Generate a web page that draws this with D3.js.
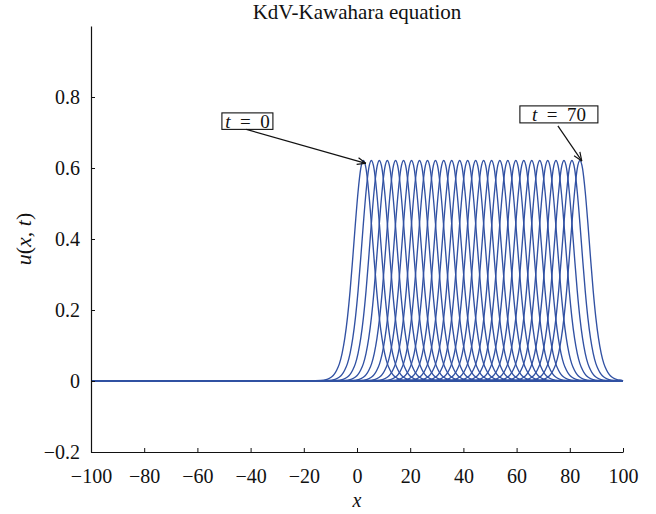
<!DOCTYPE html>
<html>
<head>
<meta charset="utf-8">
<script src="https://cdn.jsdelivr.net/npm/d3@7"></script>
<style>
  body { margin: 0; background: #fff; }
  text { font-family: "Liberation Serif", "Times New Roman", Tinos, Times, "DejaVu Serif", serif; fill: #111; }
</style>
</head>
<body>
<div id="chart"></div>
<script>
// Peak positions of the solitary wave, one per time step
var peakX = [2.4, 5.4, 8.4, 11.4, 14.5, 17.5, 20.5, 23.5, 26.5, 29.5,
             32.6, 35.6, 38.6, 41.6, 44.6, 47.6, 50.6, 53.7, 56.7, 59.7,
             62.7, 65.7, 68.7, 71.7, 74.8, 77.8, 80.8, 83.8];

// Pulse shape: distance from the peak and height u
var profileOffset = [-20, -16, -14, -13, -12, -11, -10, -9, -8, -7, -6, -5, -4, -3, -2, -1, 0,
                     1, 2, 3, 4, 5, 6, 7, 8, 9, 10, 11, 12, 13, 14, 16, 20];
var profileU = [0, 0.0013, 0.0039, 0.0066, 0.011, 0.0185, 0.031, 0.049, 0.078, 0.120, 0.178, 0.254, 0.346, 0.444, 0.533, 0.598, 0.621,
                0.598, 0.533, 0.444, 0.346, 0.254, 0.178, 0.120, 0.078, 0.049, 0.031, 0.0185, 0.011, 0.0066, 0.0039, 0.0013, 0];

// Axis ticks
var xTicks = [-100, -80, -60, -40, -20, 0, 20, 40, 60, 80, 100];
var yTicks = [-0.2, 0, 0.2, 0.4, 0.6, 0.8];

// Labels "t = ..." : box centre and arrow tip, in data units
var labelT = [0, 70];
var labelBox = [[-41.2, 0.732], [75.9, 0.751]];
var labelTip = [[3.3, 0.613], [84.5, 0.620]];

var width = 656, height = 514;
var margin = {top: 26, right: 33, bottom: 62, left: 91};
var serif = "'Liberation Serif', 'Times New Roman', Tinos, Times, serif";

var svg = d3.select("#chart")
            .append("svg")
            .attr("width", width)
            .attr("height", height);

var x = d3.scaleLinear().domain([-100, 100]).range([margin.left, width - margin.right]);
var y = d3.scaleLinear().domain([-0.2, 1.0]).range([height - margin.bottom, margin.top]);

// Arrow head (open)
svg.append("defs").append("marker")
   .attr("id", "arrow")
   .attr("viewBox", "0 0 10 10")
   .attr("refX", 9.5).attr("refY", 5)
   .attr("markerWidth", 10).attr("markerHeight", 10)
   .attr("markerUnits", "userSpaceOnUse")
   .attr("orient", "auto")
   .append("path")
   .attr("d", "M1,1.5 L9.5,5 L1,8.5")
   .attr("fill", "none")
   .attr("stroke", "#111")
   .attr("stroke-width", 1.2);

// Curves
var line = d3.line()
             .x(function(d) { return x(d[0]); })
             .y(function(d) { return y(d[1]); })
             .curve(d3.curveMonotoneX);

var curves = peakX.map(function(c) {
    var pts = [[-100, 0]];
    profileOffset.forEach(function(o, i) {
        if (c + o > -100 && c + o < 100) pts.push([c + o, profileU[i]]);
    });
    pts.push([100, 0]);
    return pts;
});

svg.append("g")
   .attr("fill", "none")
   .attr("stroke", "#3151a3")
   .attr("stroke-width", 1.35)
   .selectAll("path")
   .data(curves)
   .enter().append("path")
   .attr("d", line);

// Axes (ticks point inward)
var xAxis = d3.axisBottom(x).tickValues(xTicks).tickSizeInner(-4).tickSizeOuter(0).tickPadding(17)
              .tickFormat(function(d) { return d < 0 ? "\u2212" + Math.abs(d) : d; });
var yAxis = d3.axisLeft(y).tickValues(yTicks).tickSizeInner(-4).tickSizeOuter(0).tickPadding(11)
              .tickFormat(function(d) { return d === 0 ? "0" : (d < 0 ? "\u2212" : "") + Math.abs(d).toFixed(1); });

var gx = svg.append("g").attr("transform", "translate(0," + y(-0.2) + ")").call(xAxis);
var gy = svg.append("g").attr("transform", "translate(" + x(-100) + ",0)").call(yAxis);

[gx, gy].forEach(function(g) {
    g.attr("font-family", serif).attr("font-size", 20);
    g.select(".domain").attr("stroke", "#111").attr("stroke-width", 1.2);
    g.selectAll(".tick line").attr("stroke", "#111").attr("stroke-width", 1);
    g.selectAll(".tick text").attr("fill", "#111");
});

// Title and axis labels
svg.append("text")
   .attr("x", x(0)).attr("y", 19)
   .attr("text-anchor", "middle")
   .attr("font-size", 21)
   .text("KdV-Kawahara equation");

svg.append("text")
   .attr("x", x(0)).attr("y", 507)
   .attr("text-anchor", "middle")
   .attr("font-size", 20)
   .attr("font-style", "italic")
   .text("x");

var yl = svg.append("text")
   .attr("transform", "translate(31," + y(0.4) + ") rotate(-90)")
   .attr("text-anchor", "middle")
   .attr("font-size", 22);
yl.append("tspan").attr("font-style", "italic").text("u");
yl.append("tspan").text("(");
yl.append("tspan").attr("font-style", "italic").text("x");
yl.append("tspan").text(", ");
yl.append("tspan").attr("font-style", "italic").text("t");
yl.append("tspan").text(")");

// "t = ..." labels with arrows
var boxW = [51, 78], boxH = [16.5, 17];
labelT.forEach(function(t, i) {
    var cx = x(labelBox[i][0]), cy = y(labelBox[i][1]);
    var g = svg.append("g");
    g.append("rect")
     .attr("x", cx - boxW[i] / 2).attr("y", cy - boxH[i] / 2)
     .attr("width", boxW[i]).attr("height", boxH[i])
     .attr("fill", "#fff")
     .attr("stroke", "#111")
     .attr("stroke-width", 1.1);
    var txt = g.append("text")
               .attr("x", cx).attr("y", cy + 6.5)
               .attr("text-anchor", "middle")
               .attr("font-size", 19);
    txt.append("tspan").attr("font-style", "italic").text("t");
    txt.append("tspan").text("\u2002=\u2002" + t);
    g.append("line")
     .attr("x1", cx - 1).attr("y1", cy + boxH[i] / 2 + (i === 0 ? 0 : 3))
     .attr("x2", x(labelTip[i][0])).attr("y2", y(labelTip[i][1]))
     .attr("stroke", "#111")
     .attr("stroke-width", 1.2)
     .attr("marker-end", "url(#arrow)");
});
</script>
</body>
</html>
